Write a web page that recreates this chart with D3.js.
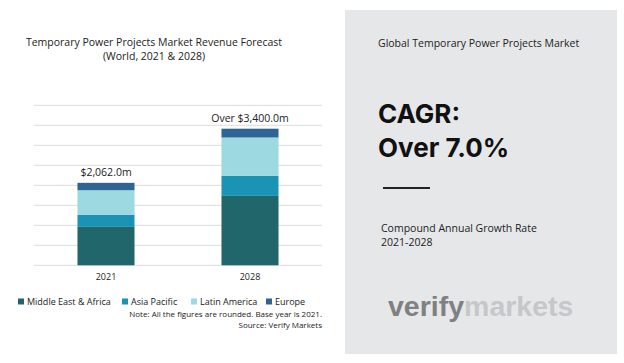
<!DOCTYPE html>
<html><head><meta charset="utf-8">
<script src="https://cdn.jsdelivr.net/npm/d3@7"></script>
<style>
html,body{margin:0;padding:0;background:#fff;}
svg{display:block;}
</style></head>
<body>
<svg id="c" width="624" height="363"></svg>
<script>
const years = ["2021", "2028"];
const regions = ["Middle East & Africa", "Asia Pacific", "Latin America", "Europe"];
const middleEastAfrica = [960, 1735];
const asiaPacific = [305, 500];
const latinAmerica = [612, 960];
const europe = [185, 220];
const totalLabels = ["$2,062.0m", "Over $3,400.0m"];
const yTicks = [0, 500, 1000, 1500, 2000, 2500, 3000, 3500, 4000];
const colors = ["#21666b", "#1b93b5", "#9dd9e0", "#2e6494"];

const svg = d3.select("#c");
const font = "'Open Sans', sans-serif";

// right panel
svg.append("rect").attr("x", 345).attr("y", 10).attr("width", 272).attr("height", 344).attr("fill", "#e6e7e9");

// titles
const t = svg.append("text").attr("text-anchor", "middle").attr("font-family", font).attr("font-size", 10.5).attr("fill", "#222");
t.append("tspan").attr("x", 154).attr("y", 46).text("Temporary Power Projects Market Revenue Forecast");
t.append("tspan").attr("x", 154).attr("y", 60).text("(World, 2021 & 2028)");

const y = d3.scaleLinear().domain([0, 4000]).range([265.3, 105.3]);
const x = d3.scaleBand().domain(years).range([34, 322]).paddingInner(0.604).paddingOuter(0.302);

// gridlines
svg.append("g").selectAll("line").data(yTicks).join("line")
  .attr("x1", 34).attr("x2", 322)
  .attr("y1", d => y(d)).attr("y2", d => y(d))
  .attr("stroke", "#dcdcdc").attr("stroke-width", 1);

// stacked data
const table = years.map((yr, i) => ({
  year: yr,
  [regions[0]]: middleEastAfrica[i],
  [regions[1]]: asiaPacific[i],
  [regions[2]]: latinAmerica[i],
  [regions[3]]: europe[i]
}));
const stack = d3.stack().keys(regions)(table);
svg.append("g").selectAll("g").data(stack).join("g")
  .attr("fill", (d, i) => colors[i])
  .selectAll("rect").data(d => d).join("rect")
  .attr("x", d => x(d.data.year))
  .attr("width", x.bandwidth())
  .attr("y", d => y(d[1]))
  .attr("height", d => y(d[0]) - y(d[1]));

// total labels
const totals = years.map((yr, i) => middleEastAfrica[i] + asiaPacific[i] + latinAmerica[i] + europe[i]);
svg.append("g").selectAll("text").data(years).join("text")
  .attr("x", d => x(d) + x.bandwidth() / 2)
  .attr("y", (d, i) => y(totals[i]) - 7)
  .attr("text-anchor", "middle").attr("font-family", font).attr("font-size", 10.5).attr("fill", "#222")
  .text((d, i) => totalLabels[i]);

// x axis labels
const xAxis = d3.axisBottom(x).tickSize(0).tickPadding(8);
const gx = svg.append("g").attr("transform", "translate(0,265.3)").call(xAxis);
gx.select(".domain").remove();
gx.selectAll("text").attr("font-family", font).attr("font-size", 9).attr("fill", "#222");

// legend
const legX = [18, 122, 191, 266];
const leg = svg.append("g").selectAll("g").data(regions).join("g")
  .attr("transform", (d, i) => `translate(${legX[i]},301.5)`);
leg.append("rect").attr("x", 0).attr("y", -3).attr("width", 6).attr("height", 6).attr("fill", (d, i) => colors[i]);
leg.append("text").attr("x", 9).attr("y", 3.2).attr("font-family", font).attr("font-size", 9).attr("fill", "#222").text(d => d);

// note
const n = svg.append("text").attr("text-anchor", "end").attr("font-family", font).attr("font-size", 8).attr("fill", "#222");
n.append("tspan").attr("x", 322).attr("y", 317).text("Note: All the figures are rounded. Base year is 2021.");
n.append("tspan").attr("x", 322).attr("y", 328).text("Source: Verify Markets");

// right panel text
svg.append("text").attr("x", 378).attr("y", 47).attr("font-family", font).attr("font-size", 10.5).attr("fill", "#222")
  .text("Global Temporary Power Projects Market");
const cg = svg.append("text").attr("font-family", "Inter, 'Open Sans', sans-serif").attr("font-weight", 700).attr("font-size", 26).attr("fill", "#111");
cg.append("tspan").attr("x", 378).attr("y", 123).text("CAGR:");
cg.append("tspan").attr("x", 378).attr("y", 157).text("Over 7.0%");
svg.append("line").attr("x1", 383).attr("x2", 430).attr("y1", 188).attr("y2", 188).attr("stroke", "#222").attr("stroke-width", 2);
const cr = svg.append("text").attr("font-family", font).attr("font-size", 10.5).attr("fill", "#222");
cr.append("tspan").attr("x", 381).attr("y", 232).text("Compound Annual Growth Rate");
cr.append("tspan").attr("x", 381).attr("y", 246).text("2021-2028");

const vm = svg.append("text").attr("x", 388).attr("y", 316).attr("font-family", "'Liberation Sans', Arial, sans-serif").attr("font-weight", 700).attr("font-size", 28.5);
vm.append("tspan").attr("fill", "#7f8081").text("verify");
vm.append("tspan").attr("fill", "#c6c7c9").text("markets");
</script>
</body></html>
